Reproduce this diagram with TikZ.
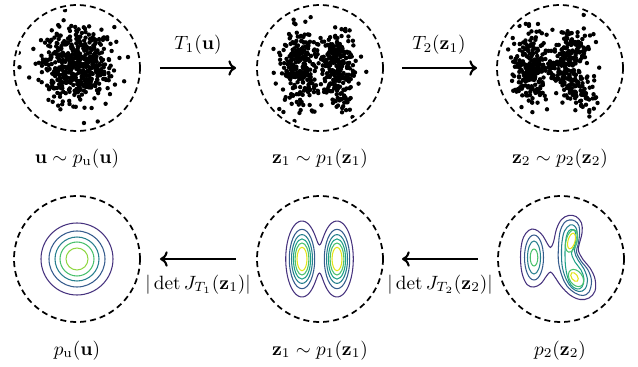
\documentclass[tikz,border=0pt]{standalone}
\usetikzlibrary{arrows.meta}
\definecolor{vA}{HTML}{46327E}
\definecolor{vB}{HTML}{365C8D}
\definecolor{vC}{HTML}{277F8E}
\definecolor{vD}{HTML}{1FA187}
\definecolor{vE}{HTML}{4AC16D}
\definecolor{vF}{HTML}{90D743}
\definecolor{vG}{HTML}{E2E418}
\begin{document}
\begin{tikzpicture}[x=0.52pt,y=-0.52pt,
  dcirc/.style={circle, draw=black, line width=0.9pt, dash pattern=on 3.1pt off 2.1pt, minimum size=65.5pt, inner sep=0pt, outer sep=0pt},
  flowarr/.style={line width=1.1pt, -{To[length=4pt,width=8pt]}},
  cline/.style={line width=0.55pt},
  dot/.style={fill=black},
  lbl/.style={inner sep=0pt, anchor=base}]
\useasboundingbox (0,0) rectangle (638,366);

% dashed circles
\node[dcirc] (c11) at (77,68) {};
\node[dcirc] (c12) at (320,68) {};
\node[dcirc] (c13) at (560,68) {};
\node[dcirc] (c21) at (77,259) {};
\node[dcirc] (c22) at (320,259) {};
\node[dcirc] (c23) at (561,259) {};

% arrows
\draw[flowarr, shorten <=10.4pt, shorten >=10.9pt] (c11) -- (c12);
\draw[flowarr, shorten <=9.9pt, shorten >=10.4pt] (c12) -- (c13);
\draw[flowarr, shorten <=10.9pt, shorten >=10.4pt] (c22) -- (c21);
\draw[flowarr, shorten <=10.4pt, shorten >=9.9pt] (c23) -- (c22);

% labels
\node[lbl] (l11) at (77,163) {$\mathbf{u} \sim p_{\mathrm{u}}(\mathbf{u})$};
\node[lbl] (l12) at (320,163) {$\mathbf{z}_1 \sim p_1(\mathbf{z}_1)$};
\node[lbl] (l13) at (560,163) {$\mathbf{z}_2 \sim p_2(\mathbf{z}_2)$};
\node[lbl] (l21) at (77,355) {$p_{\mathrm{u}}(\mathbf{u})$};
\node[lbl] (l22) at (320,355) {$\mathbf{z}_1 \sim p_1(\mathbf{z}_1)$};
\node[lbl] (l23) at (560,355) {$p_2(\mathbf{z}_2)$};
\node[lbl] (t1) at (198,50) {$T_1(\mathbf{u})$};
\node[lbl] (t2) at (439,50) {$T_2(\mathbf{z}_1)$};
\node[lbl] (j1) at (198,289) {$|\det J_{T_1}(\mathbf{z}_1)|$};
\node[lbl] (j2) at (440,289) {$|\det J_{T_2}(\mathbf{z}_2)|$};

% scatter: base distribution
\pgfmathsetseed{7}
\begin{scope}
\clip (77,68) circle (60);
\foreach \i in {1,...,520}{
  \pgfmathsetmacro\rr{sqrt(-2*ln(max(rnd,0.0005)))}
  \pgfmathsetmacro\aa{360*rnd}
  \pgfmathsetmacro\px{76+18*\rr*cos(\aa)}
  \pgfmathsetmacro\py{66+18*\rr*sin(\aa)}
  \fill[dot] (\px,\py) circle (2.2);
}
\end{scope}

% scatter: z1
\begin{scope}
\clip (320,68) circle (60);
\foreach \i in {1,...,520}{
  \pgfmathsetmacro\rr{sqrt(-2*ln(max(rnd,0.0005)))}
  \pgfmathsetmacro\aa{360*rnd}
  \pgfmathsetmacro\cc{rnd}
  \ifdim\cc pt<0.5pt
    \pgfmathsetmacro\px{300+9.5*\rr*cos(\aa)}
  \else
    \pgfmathsetmacro\px{338+9.5*\rr*cos(\aa)}
  \fi
  \pgfmathsetmacro\py{68+20*\rr*sin(\aa)}
  \fill[dot] (\px,\py) circle (2.2);
}
\end{scope}

% scatter: z2
\begin{scope}
\clip (560,68) circle (60);
\foreach \i in {1,...,520}{
  \pgfmathsetmacro\rr{sqrt(-2*ln(max(rnd,0.0005)))}
  \pgfmathsetmacro\aa{360*rnd}
  \pgfmathsetmacro\ga{\rr*cos(\aa)}
  \pgfmathsetmacro\gb{\rr*sin(\aa)}
  \pgfmathsetmacro\cc{rnd}
  \ifdim\cc pt<0.46pt
    \pgfmathsetmacro\px{532+9*\ga}
    \pgfmathsetmacro\py{67+16*\gb}
  \else\ifdim\cc pt<0.70pt
    \pgfmathsetmacro\px{570+8*\ga-3.5*\gb}
    \pgfmathsetmacro\py{51+12*\gb}
  \else\ifdim\cc pt<0.92pt
    \pgfmathsetmacro\px{579+0.55*13*\gb+0.83*8*\ga}
    \pgfmathsetmacro\py{89+0.83*13*\gb-0.55*8*\ga}
  \else
    \pgfmathsetmacro\px{566+6*\ga}
    \pgfmathsetmacro\py{70+9*\gb}
  \fi\fi\fi
  \fill[dot] (\px,\py) circle (2.2);
}
\end{scope}

% contours: base density
\draw[cline, vA] (77,259) circle (36);
\draw[cline, vB] (77,259) circle (28);
\draw[cline, vC] (77,259) circle (22);
\draw[cline, vE] (77,259) circle (17);
\draw[cline, vF] (77,259) circle (11);

% contours: p1 (two lobes)
\draw[cline, vA] plot[domain=0:180, samples=121, variable=\t]
  ({319.5+33.8*cos(\t)}, {259-17.5*sqrt(2*max(ln((exp(((33.8*cos(\t)-17.5)^2)/(-112.5))+exp(((33.8*cos(\t)+17.5)^2)/(-112.5)))/0.0951),0))})
  -- plot[domain=180:360, samples=121, variable=\t]
  ({319.5+33.8*cos(\t)}, {259+17.5*sqrt(2*max(ln((exp(((33.8*cos(\t)-17.5)^2)/(-112.5))+exp(((33.8*cos(\t)+17.5)^2)/(-112.5)))/0.0951),0))})
  -- cycle;
\foreach \cx in {302,337}{
  \draw[cline, vB] (\cx,259) ellipse [x radius=12.7, y radius=29.7];
  \draw[cline, vC] (\cx,259) ellipse [x radius=10.5, y radius=24.4];
  \draw[cline, vD] (\cx,259) ellipse [x radius=8.6, y radius=20.1];
  \draw[cline, vE] (\cx,259) ellipse [x radius=6.85, y radius=16.0];
  \draw[cline, vG] (\cx,259) ellipse [x radius=5.0, y radius=11.7];
}

% contours: p2
\draw[cline, vA] plot[smooth cycle, tension=0.6] coordinates {
  (520.5,257) (522,242) (526,233) (532,229) (538,231) (543,236) (547,243)
  (550.5,247.5) (553.5,242) (556.5,229) (561.5,219.5) (568.5,215.5) (576,216.5)
  (581.5,223) (582,233) (579,245) (578.5,251) (583,259.5) (590,268) (595,279)
  (595,291) (589,298) (580,299.5) (570,295) (561,286) (554.5,276.5) (550.5,272)
  (546.5,276) (541,283.5) (534,287) (527,284.5) (522,273)};
\draw[cline, vB] plot[smooth cycle, tension=0.6] coordinates {
  (569.3,220) (575,221) (579,226) (579.5,235) (578,245) (576.5,252) (581,261)
  (588,270) (591.5,281) (589,292) (583,295.5) (575,293) (567,286) (562,276)
  (558.5,262) (558.5,246) (560,232) (564,223)};
\draw[cline, vC] plot[smooth cycle, tension=0.6] coordinates {
  (570,225) (574.5,226) (577,231) (577,241) (574.5,251) (578,260) (584,269)
  (587.5,280) (585,289) (579,291.5) (572,288) (566.5,280) (562.5,268)
  (561.5,255) (562,242) (564.5,231)};
\draw[cline, vD] plot[smooth cycle, tension=0.6] coordinates {
  (571,229.5) (575,231) (576,238) (574.5,246) (571.5,253) (575,262) (581,270)
  (584,279) (582,287) (577,289) (571,285) (567.5,277) (565.5,266) (565,254)
  (565.5,242) (567.5,233)};
\draw[cline, vE, shift={(571.5,241)}, rotate=-15] (0,0) ellipse [x radius=5.5, y radius=11.5];
\draw[cline, vG, shift={(571.5,241)}, rotate=-15] (0,0) ellipse [x radius=3.5, y radius=8];
\draw[cline, vE, shift={(576,278)}, rotate=35] (0,0) ellipse [x radius=6.5, y radius=9.5];
\draw[cline, vG, shift={(574.5,277)}, rotate=35] (0,0) ellipse [x radius=3, y radius=5];
\draw[cline, vB] (534,257.5) ellipse [x radius=9.5, y radius=22.5];
\draw[cline, vC] (534,257.5) ellipse [x radius=6.5, y radius=16.5];
\draw[cline, vE] (534,257.5) ellipse [x radius=3.8, y radius=8.5];
\end{tikzpicture}
\end{document}
